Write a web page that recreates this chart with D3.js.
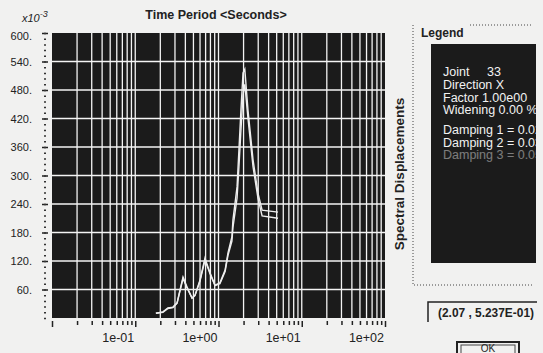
<!DOCTYPE html>
<html>
<meta charset="utf-8" />
<script src="https://d3js.org/d3.v7.min.js"></script>

<body>

    <style>
        body,
        html {
            margin: 0;
            padding: 0;
            width: 100%;
            height: 100%;
            overflow: hidden;
            background: #f1f1f0;
        }

        .narrow {
            font-family: "Liberation Sans", Arial, sans-serif;
        }
    </style>

    <svg id="chart"></svg>

    <script>
        // periods (s) and spectral displacement values (x1e-3)
        var periods = [0.177, 0.215, 0.247, 0.284, 0.318, 0.345, 0.375, 0.419, 0.481, 0.522, 0.600, 0.688, 0.791,
            0.908, 1.04, 1.20, 1.30, 1.45, 1.49, 1.58, 1.67, 1.76, 1.86, 1.97, 2.07, 2.26, 2.60, 2.98, 3.34, 5.19];
        var damping1 = [10, 13, 21, 23, 32, 59, 86, 65, 42, 48, 80, 126, 95,
            69, 74, 101, 137, 171, 206, 242, 276, 354, 438, 516, 524, 438, 333, 263, 227, 223];
        var damping2 = [10, 12, 20, 22, 31, 57, 83, 63, 42, 47, 78, 122, 93,
            68, 72, 98, 132, 162, 190, 222, 252, 318, 395, 470, 492, 420, 318, 252, 215, 210];

        var yTicks = [60, 120, 180, 240, 300, 360, 420, 480, 540, 600];
        var xLabels = [0.1, 1, 10, 100];
        var xLabelText = ["1e-01", "1e+00", "1e+01", "1e+02"];

        var legendLines = ["Joint", "Direction X", "Factor 1.00e00", "Widening 0.00 %"];
        var dampingLines = ["Damping 1 = 0.02", "Damping 2 = 0.03", "Damping 3 = 0.05"];

        var width = 543, height = 353;
        var plot = { left: 52, right: 385, top: 33, bottom: 318 };

        var svg = d3.select("#chart")
            .attr("width", width)
            .attr("height", height);

        var x = d3.scaleLog()
            .domain([0.01, 100])
            .range([plot.left, plot.right]);

        var y = d3.scaleLinear()
            .domain([0, 600])
            .range([plot.bottom, plot.top]);

        // every 1..9 x decade
        var logTicks = [];
        [0.01, 0.1, 1, 10].forEach(function (dec) {
            for (var k = 1; k < 10; k++) logTicks.push(+(dec * k).toPrecision(3));
        });
        logTicks.push(100);

        // black plot area
        svg.append("rect")
            .attr("x", plot.left)
            .attr("y", plot.top)
            .attr("width", plot.right - plot.left)
            .attr("height", plot.bottom - plot.top)
            .attr("fill", "#1b1b1b");

        // grid
        var grid = svg.append("g").attr("stroke", "#f4f4f4").attr("stroke-width", 1.3);
        grid.selectAll(".vgrid")
            .data(logTicks.filter(function (d) { return d > 0.01 && d < 100; }))
            .enter().append("line")
            .attr("x1", function (d) { return x(d); })
            .attr("x2", function (d) { return x(d); })
            .attr("y1", plot.top)
            .attr("y2", plot.bottom);
        grid.selectAll(".hgrid")
            .data(yTicks.filter(function (d) { return d < 600; }))
            .enter().append("line")
            .attr("x1", plot.left)
            .attr("x2", plot.right)
            .attr("y1", function (d) { return y(d); })
            .attr("y2", function (d) { return y(d); });

        // curves
        var line = d3.line()
            .x(function (d) { return x(d[0]); })
            .y(function (d) { return y(d[1]); });

        [damping2, damping1].forEach(function (vals) {
            svg.append("path")
                .datum(periods.map(function (p, i) { return [p, vals[i]]; }))
                .attr("d", line)
                .attr("fill", "none")
                .attr("stroke", "#eeeeee")
                .attr("stroke-width", 1.4);
        });

        // y axis: major + minor ticks
        var yAxis = svg.append("g")
            .attr("transform", "translate(48,0)")
            .call(d3.axisLeft(y).tickValues(yTicks).tickSize(6).tickPadding(10)
                .tickFormat(function (d) { return d + "."; }));
        yAxis.select(".domain").remove();
        yAxis.selectAll("text").attr("font-size", 11).attr("fill", "#222")
            .attr("font-family", "'Liberation Sans', Arial, sans-serif");
        yAxis.selectAll("text").filter(function (d) { return d === 600; }).attr("dy", "0.6em");
        yAxis.selectAll("line").attr("stroke", "#222").attr("stroke-width", 1.5);

        var minorY = d3.range(0, 601, 12);
        svg.append("g")
            .attr("transform", "translate(46,0)")
            .call(d3.axisLeft(y).tickValues(minorY).tickSize(2).tickFormat(""))
            .call(function (g) { g.select(".domain").remove(); })
            .selectAll("line").attr("stroke", "#333").attr("stroke-width", 1.5);

        // x axis
        var xAxis = svg.append("g")
            .attr("transform", "translate(0," + (plot.bottom + 3) + ")")
            .call(d3.axisBottom(x).tickValues(logTicks).tickSize(4).tickFormat(""));
        xAxis.select(".domain").remove();
        xAxis.selectAll("line")
            .attr("stroke", "#222")
            .attr("stroke-width", 1.5)
            .attr("y2", function (d) { return [0.01, 0.1, 1, 10, 100].indexOf(d) >= 0 ? 6 : 4; });

        svg.selectAll(".xlabel")
            .data(xLabels)
            .enter().append("text")
            .attr("class", "narrow")
            .attr("x", function (d) { return x(d) - 1; })
            .attr("y", 342)
            .attr("text-anchor", "end")
            .attr("font-size", 12.5)
            .attr("fill", "#222")
            .text(function (d, i) { return xLabelText[i]; });

        // titles
        svg.append("text")
            .attr("x", 216)
            .attr("y", 19)
            .attr("text-anchor", "middle")
            .attr("font-family", "'Liberation Sans', Arial, sans-serif")
            .attr("font-weight", "bold")
            .attr("font-size", 12.5)
            .attr("fill", "#222")
            .text("Time Period <Seconds>");

        var mult = svg.append("text")
            .attr("x", 22)
            .attr("y", 22)
            .attr("font-family", "'Liberation Sans', Arial, sans-serif")
            .attr("font-style", "italic")
            .attr("font-size", 11)
            .attr("fill", "#222");
        mult.append("tspan").text("x10");
        mult.append("tspan").attr("dy", -5).attr("font-size", 9).text("-3");

        svg.append("text")
            .attr("transform", "translate(404,174) rotate(-90)")
            .attr("text-anchor", "middle")
            .attr("font-family", "'Liberation Sans', Arial, sans-serif")
            .attr("font-weight", "bold")
            .attr("font-size", 13.5)
            .attr("fill", "#222")
            .text("Spectral Displacements");

        // legend frame
        var frame = svg.append("g")
            .attr("stroke", "#444")
            .attr("stroke-dasharray", "1,2")
            .attr("fill", "none");
        frame.append("path").attr("d", "M413,25V285H533");
        frame.append("path").attr("d", "M470,25H532");

        svg.append("text")
            .attr("x", 421)
            .attr("y", 37)
            .attr("font-family", "'Liberation Sans', Arial, sans-serif")
            .attr("font-weight", "bold")
            .attr("font-size", 12)
            .attr("fill", "#222")
            .text("Legend");

        svg.append("clipPath").attr("id", "legclip")
            .append("rect").attr("x", 431).attr("y", 44).attr("width", 105).attr("height", 219);

        var leg = svg.append("g").attr("clip-path", "url(#legclip)");
        leg.append("rect")
            .attr("x", 431).attr("y", 44).attr("width", 105).attr("height", 219)
            .attr("fill", "#1b1b1b");

        leg.selectAll(".legline")
            .data(legendLines)
            .enter().append("text")
            .attr("class", "narrow")
            .attr("x", 443)
            .attr("y", function (d, i) { return 76 + i * 12.8; })
            .attr("font-size", 12.5)
            .attr("fill", "#f2f2f2")
            .text(function (d) { return d; });
        leg.append("text")
            .attr("class", "narrow")
            .attr("x", 487).attr("y", 76)
            .attr("font-size", 12.5).attr("fill", "#f2f2f2")
            .text("33");

        leg.selectAll(".dampline")
            .data(dampingLines)
            .enter().append("text")
            .attr("class", "narrow")
            .attr("x", 443)
            .attr("y", function (d, i) { return 134 + i * 12.5; })
            .attr("font-size", 12.5)
            .attr("fill", "#f2f2f2")
            .attr("opacity", function (d, i) { return i === 2 ? 0.45 : 1; })
            .text(function (d) { return d; });

        // coordinate readout
        svg.append("path")
            .attr("d", "M428,322V302H537")
            .attr("fill", "none")
            .attr("stroke", "#222")
            .attr("stroke-width", 1.5);
        svg.append("text")
            .attr("class", "narrow")
            .attr("x", 438)
            .attr("y", 317)
            .attr("font-size", 13)
            .attr("font-weight", "bold")
            .attr("textLength", 96)
            .attr("lengthAdjust", "spacingAndGlyphs")
            .attr("fill", "#222")
            .text("(2.07 , 5.237E-01)");

        // OK button
        svg.append("rect")
            .attr("x", 457).attr("y", 342).attr("width", 62).attr("height", 20)
            .attr("fill", "#f1f1f0").attr("stroke", "#222").attr("stroke-width", 2);
        svg.append("rect")
            .attr("x", 461).attr("y", 345).attr("width", 54).attr("height", 14)
            .attr("fill", "none").attr("stroke", "#444").attr("stroke-width", 1);
        svg.append("text")
            .attr("x", 488).attr("y", 352)
            .attr("text-anchor", "middle")
            .attr("font-family", "'Liberation Sans', Arial, sans-serif")
            .attr("font-size", 10).attr("fill", "#222")
            .text("OK");
    </script>

</body>

</html>
